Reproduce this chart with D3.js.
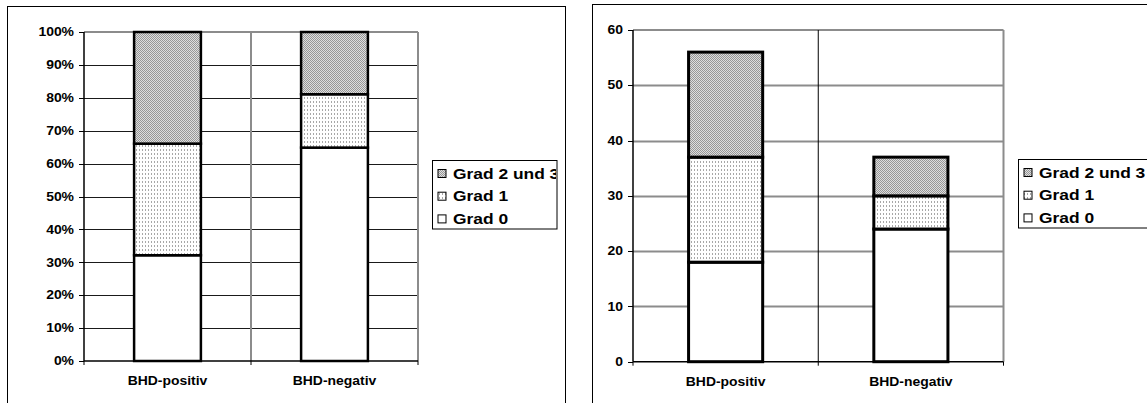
<!DOCTYPE html>
<html>
<head>
<meta charset="utf-8">
<script src="https://cdn.jsdelivr.net/npm/d3@7"></script>
<style>
  html, body { margin: 0; padding: 0; background: #fff; }
  svg { display: block; }
  text { font-family: "Liberation Sans", Arial, sans-serif; font-weight: bold; fill: #000; }
</style>
</head>
<body>
<svg id="chart" width="1147" height="403"></svg>
<script>
// Patient groups and grading counts
const categories = ["BHD-positiv", "BHD-negativ"];
const seriesNames = ["Grad 0", "Grad 1", "Grad 2 und 3"];
const grad0 = [18, 24];
const grad1 = [19, 6];
const grad23 = [19, 7];
const percentTicks = ["0%", "10%", "20%", "30%", "40%", "50%", "60%", "70%", "80%", "90%", "100%"];
const countTicks = [0, 10, 20, 30, 40, 50, 60];

const rows = categories.map((c, i) => ({
  cat: c, "Grad 0": grad0[i], "Grad 1": grad1[i], "Grad 2 und 3": grad23[i]
}));

const svg = d3.select("#chart");
const STRETCH = 1.16;

// Fill patterns for the grades
const defs = svg.append("defs");
const pDense = defs.append("pattern").attr("id", "pat-dense")
  .attr("patternUnits", "userSpaceOnUse").attr("width", 2).attr("height", 2);
pDense.append("rect").attr("width", 2).attr("height", 2).attr("fill", "#dedede");
pDense.append("rect").attr("x", 0).attr("y", 0).attr("width", 1).attr("height", 1).attr("fill", "#979797");
pDense.append("rect").attr("x", 1).attr("y", 1).attr("width", 1).attr("height", 1).attr("fill", "#979797");

const pDots = defs.append("pattern").attr("id", "pat-dots")
  .attr("patternUnits", "userSpaceOnUse").attr("width", 3).attr("height", 4);
pDots.append("rect").attr("width", 3).attr("height", 4).attr("fill", "#fff");
pDots.append("rect").attr("x", 1).attr("y", 1).attr("width", 1).attr("height", 2).attr("fill", "#a8a8a8");

const fills = { "Grad 0": "#fff", "Grad 1": "url(#pat-dots)", "Grad 2 und 3": "url(#pat-dense)" };

function label(g, x, y, txt, anchor, size) {
  g.append("text")
    .attr("transform", `translate(${x},${y}) scale(${STRETCH},1)`)
    .attr("text-anchor", anchor)
    .attr("dy", "0.35em")
    .style("font-size", size + "px")
    .text(txt);
}

function drawChart(opts) {
  const g = svg.append("g");
  // outer frame
  g.append("rect").attr("x", opts.frame[0]).attr("y", opts.frame[1])
    .attr("width", opts.frame[2]).attr("height", opts.frame[3])
    .attr("fill", "none").attr("stroke", "#000").attr("stroke-width", 1);

  const x = d3.scaleBand().domain(categories).range([opts.x0, opts.x1])
    .paddingInner(0.6).paddingOuter(0.3);
  const y = d3.scaleLinear().domain(opts.domain).range([opts.y0, opts.y1]);

  // horizontal gridlines
  const gridVals = opts.tickVals.slice(1, -1);
  g.selectAll(".grid").data(gridVals).join("line")
    .attr("x1", opts.x0).attr("x2", opts.x1)
    .attr("y1", d => Math.round(y(d)) + 0.5).attr("y2", d => Math.round(y(d)) + 0.5)
    .attr("stroke", opts.gridColor).attr("stroke-width", opts.gridWidth);

  // plot area border (top and right)
  g.append("line").attr("x1", opts.x0).attr("x2", opts.x1)
    .attr("y1", y(opts.domain[1])).attr("y2", y(opts.domain[1]))
    .attr("stroke", "#8c8c8c").attr("stroke-width", 2);
  g.append("line").attr("x1", opts.x1).attr("x2", opts.x1)
    .attr("y1", y(opts.domain[1])).attr("y2", y(0))
    .attr("stroke", "#8c8c8c").attr("stroke-width", 2);

  // category divider
  const mid = (x(categories[0]) + x.bandwidth() + x(categories[1])) / 2;
  g.append("line").attr("x1", mid).attr("x2", mid)
    .attr("y1", y(opts.domain[1])).attr("y2", y(0))
    .attr("stroke", opts.dividerColor).attr("stroke-width", opts.dividerWidth);

  // stacked bars
  const stack = d3.stack().keys(seriesNames).offset(opts.offset);
  const layers = stack(rows);
  layers.forEach(layer => {
    g.selectAll(null).data(layer).join("rect")
      .attr("x", d => x(d.data.cat))
      .attr("width", x.bandwidth())
      .attr("y", d => y(d[1]))
      .attr("height", d => y(d[0]) - y(d[1]))
      .attr("fill", fills[layer.key])
      .attr("stroke", "#000").attr("stroke-width", opts.barStroke);
  });

  // y axis
  g.append("line").attr("x1", opts.x0).attr("x2", opts.x0)
    .attr("y1", y(opts.domain[1])).attr("y2", y(0))
    .attr("stroke", "#000").attr("stroke-width", 1.5);
  g.selectAll(".tick").data(opts.tickVals).join("line")
    .attr("x1", opts.x0 - 5).attr("x2", opts.x0)
    .attr("y1", d => Math.round(y(d)) + 0.5).attr("y2", d => Math.round(y(d)) + 0.5)
    .attr("stroke", "#000").attr("stroke-width", 1);
  opts.tickVals.forEach((v, i) => label(g, opts.x0 - 10, y(v), opts.tickLabels[i], "end", 12));

  // x axis
  g.append("line").attr("x1", opts.x0).attr("x2", opts.x1)
    .attr("y1", y(0)).attr("y2", y(0))
    .attr("stroke", "#000").attr("stroke-width", 1.5);
  [opts.x0, mid, opts.x1].forEach(px => {
    g.append("line").attr("x1", px).attr("x2", px)
      .attr("y1", y(0)).attr("y2", y(0) + 4)
      .attr("stroke", "#000").attr("stroke-width", 1);
  });
  categories.forEach(c => label(g, x(c) + x.bandwidth() / 2, opts.catY, c, "middle", 12));

  // legend
  const L = opts.legend;
  g.append("rect").attr("x", L.x).attr("y", L.y).attr("width", L.w).attr("height", L.h)
    .attr("fill", "#fff").attr("stroke", "#000").attr("stroke-width", 1);
  const clipId = "clip-" + opts.id;
  defs.append("clipPath").attr("id", clipId).append("rect")
    .attr("x", L.x).attr("y", L.y).attr("width", L.w - 1).attr("height", L.h);
  const lg = g.append("g").attr("clip-path", `url(#${clipId})`);
  const order = seriesNames.slice().reverse();
  order.forEach((s, i) => {
    const cy = L.y + 13 + i * 22.7;
    lg.append("rect").attr("x", L.x + 5.5).attr("y", cy - 4).attr("width", 8).attr("height", 8)
      .attr("fill", fills[s]).attr("stroke", "#000").attr("stroke-width", 1);
    label(lg, L.x + 20.5, cy, s, "start", 15);
  });
}

// Left: percentage share per group
drawChart({
  id: "pct",
  frame: [7.5, 6.5, 558, 420],
  x0: 84, x1: 418, y0: 361, y1: 32,
  domain: [0, 1],
  tickVals: d3.range(0, 1.0001, 0.1),
  tickLabels: percentTicks,
  offset: d3.stackOffsetExpand,
  gridColor: "#1a1a1a", gridWidth: 1,
  dividerColor: "#8c8c8c", dividerWidth: 2,
  barStroke: 2.5,
  catY: 381,
  legend: { x: 432.5, y: 160.5, w: 124.5, h: 68.5 }
});

// Right: absolute counts per group
drawChart({
  id: "abs",
  frame: [592.5, 4.5, 600, 420],
  x0: 633, x1: 1003.5, y0: 361.7, y1: 30,
  domain: [0, 60],
  tickVals: countTicks,
  tickLabels: countTicks.map(String),
  offset: d3.stackOffsetNone,
  gridColor: "#8c8c8c", gridWidth: 2,
  dividerColor: "#000", dividerWidth: 1,
  barStroke: 3,
  catY: 381.5,
  legend: { x: 1018.5, y: 159.5, w: 140, h: 68.5 }
});
</script>
</body>
</html>
